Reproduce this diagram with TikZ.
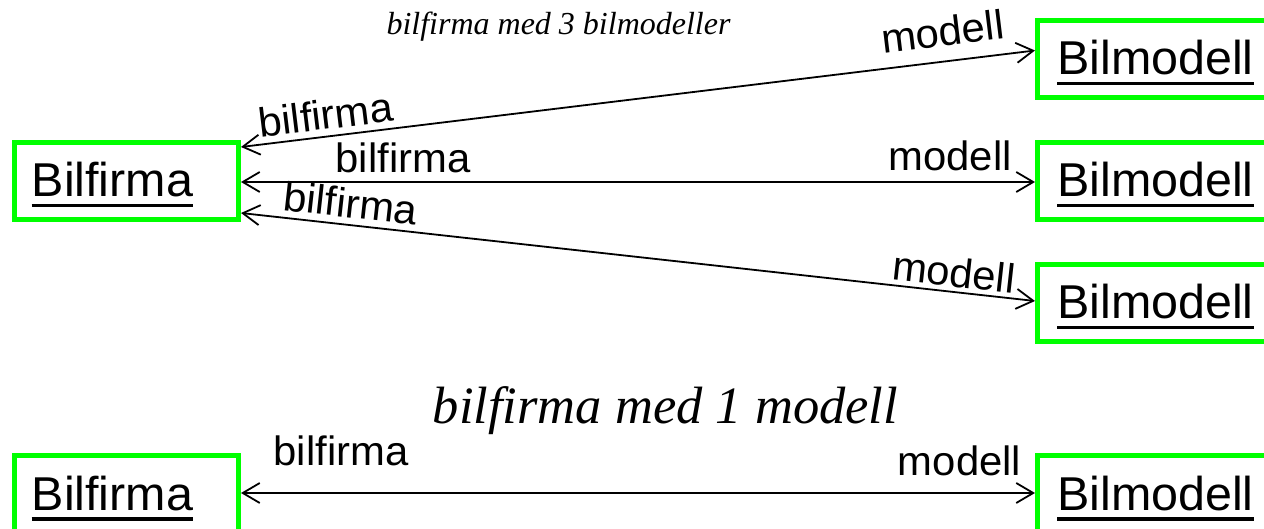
\documentclass[tikz,border=0pt]{standalone}
\usepackage{fontspec}
\setmainfont{Liberation Sans}
\newfontfamily\namefont{Liberation Sans}[FakeStretch=1.02]
\newfontfamily\rolefont{Liberation Sans}[FakeStretch=1.02]
\newfontfamily\titleserif{Liberation Serif}
\usetikzlibrary{arrows.meta}

% underlined class name
\newcommand\ulname[1]{\setbox0\hbox{#1}\rlap{\rule[-10.5pt]{\wd0}{3.2pt}}\box0}

\definecolor{boxgreen}{RGB}{0,255,0}

\tikzset{
  classbox/.style={draw=boxgreen, line width=5pt, minimum height=77pt, inner sep=0pt},
  firmbox/.style={classbox, minimum width=224pt},
  modelbox/.style={classbox, minimum width=232pt},
  classname/.style={anchor=base west, inner sep=0pt, font=\namefont\fontsize{47.5}{56}\selectfont},
  role/.style={inner sep=0pt, font=\rolefont\fontsize{41}{49}\selectfont, sloped},
  assoc/.style={line width=1.8pt,
    {Straight Barb[length=17pt,width=20pt]}-{Straight Barb[length=17pt,width=20pt]}},
  heading/.style={anchor=base, inner sep=0pt}
}

\begin{document}
\begin{tikzpicture}[x=1pt,y=-1pt]
\useasboundingbox (0,0) rectangle (1264,529);

% headings
\node[heading, font=\titleserif\itshape\fontsize{32}{38}\selectfont] (h1) at (558.5,35) {bilfirma med 3 bilmodeller};
\node[heading, font=\titleserif\itshape\fontsize{52.5}{62}\selectfont] (h2) at (665.5,423) {bilfirma med 1 modell};

% class boxes
\node[firmbox]  (f1) at (126.5,181) {};
\node[modelbox] (m1) at (1153.5,59.5) {};
\node[modelbox] (m2) at (1153.5,181) {};
\node[modelbox] (m3) at (1153.5,303) {};
\node[firmbox]  (f2) at (126.5,494) {};
\node[modelbox] (m4) at (1153.5,494) {};

% class names
\node[classname] (f1t) at (31.5,196.7) {\ulname{Bilfirma}};
\node[classname] (m1t) at (1057,75) {\ulname{Bilmodell}};
\node[classname] (m2t) at (1057,197) {\ulname{Bilmodell}};
\node[classname] (m3t) at (1057,318.5) {\ulname{Bilmodell}};
\node[classname] (f2t) at (31.5,510) {\ulname{Bilfirma}};
\node[classname] (m4t) at (1057,510) {\ulname{Bilmodell}};

% associations
\draw[assoc] ([yshift=34pt]f1.east) -- ([yshift=9pt]m1.west)
  node[role, pos=0.110, above=6pt] (r1a) {bilfirma}
  node[role, pos=0.888, above=14pt] (r1b) {modell};
\draw[assoc] ([yshift=-1pt]f1.east) -- ([yshift=-1pt]m2.west)
  node[role, pos=0.204, above=8pt] (r2a) {bilfirma}
  node[role, pos=0.893, above=10pt] (r2b) {modell};
\draw[assoc] ([yshift=-32pt]f1.east) -- ([yshift=2pt]m3.west)
  node[role, pos=0.135, above=6pt] (r3a) {bilfirma}
  node[role, pos=0.895, above=4pt] (r3b) {modell};
\draw[assoc] ([yshift=1pt]f2.east) -- ([yshift=1pt]m4.west)
  node[role, pos=0.126, above=26pt] (r4a) {bilfirma}
  node[role, pos=0.905, above=16pt] (r4b) {modell};
\end{tikzpicture}
\end{document}
